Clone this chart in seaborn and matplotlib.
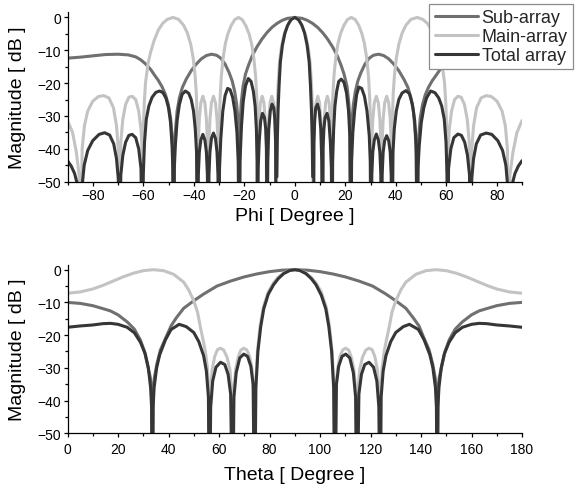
import numpy as np
import pandas as pd
import matplotlib
matplotlib.use('Agg')
import matplotlib.pyplot as plt
import seaborn as sns
from matplotlib.lines import Line2D
from matplotlib.ticker import MultipleLocator

nan = np.nan

# ---------------- corte Phi ----------------
phi_sub = [-90, -85, -80, -75, -70, -66, -63, -61, -59, -57, -55.5, -54, -52.5, -51.2, -50.1, -49.2, -48.6, -48.3, -48.0,
           -47.7, -47.3, -46.6, -45.7, -44.5, -43, -41, -39, -37, -35, -33, -31, -29.3, -27.6, -26, -24.8, -23.8, -23.0, -22.5, -22.2, -22.0,
           -21.7, -21.2, -20.5, -19.5, -18.3, -16.8, -15, -13, -11, -9, -7, -5, -3, 0,
           3, 5, 7, 9, 11, 13, 15, 16.8, 18.3, 19.5, 20.7, 21.4, 21.9, 22.2,
           22.4, 22.7, 23.2, 24.0, 25.0, 26.2, 27.8, 29.5, 31.2, 33.2, 35.2, 37.2, 39.2, 41.2, 43.2, 44.8, 46.0, 47.0, 47.7, 48.1, 48.5,
           48.8, 49.1, 49.7, 50.6, 51.7, 53.0, 54.5, 56, 57.5, 59.5, 61.5, 63.5, 66.5, 70.5, 75, 80, 85, 90]
db_sub_phi = [-12.4, -12.1, -11.7, -11.3, -11.2, -11.4, -12.0, -12.9, -14.2, -15.9, -17.6, -19.2, -21.2, -23.5, -26.5, -30.5, -36, -42, -80,
              -42, -35, -28.5, -24.5, -21.3, -18.8, -16.2, -14.2, -12.6, -11.6, -11.2, -11.5, -12.4, -14.2, -16.8, -19.3, -22.5, -26.5, -31, -37, -80,
              -33, -26, -21, -17.2, -14.5, -11.6, -9, -6.6, -4.6, -3, -1.8, -0.9, -0.3, 0,
              -0.3, -0.9, -1.8, -3, -4.6, -6.6, -9, -11.6, -14.5, -17.2, -21, -26, -33, -80,
              -37, -31, -26.5, -22.5, -19.3, -16.8, -14.2, -12.4, -11.5, -11.2, -11.6, -12.6, -14.2, -16.2, -18.8, -21.3, -24.5, -28.5, -35, -42, -80,
              -42, -36, -30.5, -26.5, -23.5, -21.2, -19.2, -17.6, -15.9, -14.2, -12.9, -12.0, -11.4, -11.2, -11.3, -11.7, -12.1, -12.4]

phi_main = [-90, -88, -86.5, -85.4, -84.8,
            -84.2, -83.3, -82, -80, -77.8, -75.7, -73.6, -71.8, -70.6, -69.9, -69.4,
            -68.9, -68.1, -67, -65.7, -64.4, -63, -61.8, -60.9, -60.5, -60.3,
            -60.0, -59.6, -59.1, -58.1, -57.1, -55.6, -54, -52.3, -50.5, -48.2, -46, -44, -42.5, -41.2, -40.2, -39.5, -39.0, -38.7, -38.5,
            -38.2, -37.8, -37.2, -36.4, -35.6, -35.0, -34.6, -34.3,
            -34.0, -33.6, -33.0, -32.2, -31.4, -30.8, -30.4, -30.1,
            -29.9, -29.6, -29.1, -28.4, -27.5, -26.5, -25.2, -23.8, -22.3, -20.8, -19.4, -18.1, -17.1, -16.2, -15.5, -15.0, -14.8,
            -14.5, -14.1, -13.6, -12.9, -12.2, -11.7, -11.3, -11.0,
            -10.7, -10.3, -9.8, -9.1, -8.4, -7.9, -7.5, -7.3,
            -7.1, -6.9, -6.6, -6.1, -5.4, -4.5, -3.5, -2.3, -1.1, 0,
            1.1, 2.3, 3.5, 4.5, 5.4, 6.1, 6.6, 6.9, 7.1, 7.3,
            7.5, 7.9, 8.4, 9.1, 9.8, 10.3, 10.7, 11.0,
            11.3, 11.7, 12.2, 12.9, 13.6, 14.1, 14.5, 14.8,
            15.0, 15.5, 16.2, 17.1, 18.1, 19.4, 20.8, 22.4, 24.0, 25.4, 26.6, 27.6, 28.5, 29.2, 29.7, 30.0, 30.2,
            30.5, 30.9, 31.5, 32.3, 33.1, 33.7, 34.1, 34.3,
            34.6, 35.0, 35.6, 36.4, 37.2, 37.8, 38.2, 38.5,
            38.7, 39.0, 39.5, 40.2, 41.2, 42.5, 44, 46, 48.5, 50.7, 52.5, 54.2, 55.8, 57.3, 58.3, 59.3, 59.8, 60.2, 60.5,
            60.8, 61.2, 62.1, 63.3, 64.6, 65.9, 67.2, 68.3, 69.1, 69.6,
            70.1, 70.8, 72, 73.8, 75.8, 77.9, 80.1, 82.1, 83.4, 84.2, 84.6,
            85.2, 86.4, 88, 90]
db_main_phi = [-31.4, -35, -41, -48, -80,
               -40, -33, -28.5, -25.5, -24.1, -23.8, -24.5, -27.5, -33, -40, -80,
               -38, -31, -26.5, -24.3, -24, -25, -28.5, -34, -40, -80,
               -35, -26, -19.8, -14, -10.6, -6.8, -3.8, -1.8, -0.6, 0, -0.6, -2.4, -4.8, -8.2, -12.5, -17.5, -23, -30, -80,
               -38, -31, -26, -24, -26, -31, -38, -80,
               -38, -31, -26, -24, -26, -31, -38, -80,
               -33, -25, -18, -12.5, -8, -5, -2.5, -0.7, 0, -0.7, -2.5, -5, -8, -12.5, -18, -25, -80,
               -38, -31, -26, -24, -26, -31, -38, -80,
               -38, -31, -26, -24, -26, -31, -38, -80,
               -32, -26, -20, -14, -9.5, -6, -3.6, -1.5, -0.35, 0,
               -0.35, -1.5, -3.6, -6, -9.5, -14, -20, -26, -32, -80,
               -38, -31, -26, -24, -26, -31, -38, -80,
               -38, -31, -26, -24, -26, -31, -38, -80,
               -25, -18, -12.5, -8, -5, -2.5, -0.7, 0, -0.7, -2.5, -5, -8, -12.5, -18, -25, -33, -80,
               -38, -31, -26, -24, -26, -31, -38, -80,
               -38, -31, -26, -24, -26, -31, -38, -80,
               -30, -23, -17.5, -12.5, -8.2, -4.8, -2.4, -0.6, 0, -0.6, -1.8, -3.8, -6.8, -10.6, -14, -19.8, -26, -35, -80,
               -40, -34, -28.5, -25, -24, -24.3, -26.5, -31, -38, -80,
               -40, -33, -27.5, -24.5, -23.8, -24.1, -25.5, -28.5, -33, -40, -80,
               -48, -41, -35, -31.4]

phi_total = [-90, -88.5, -87.2, -86.2, -85.4, -84.8,
             -84.3, -83.4, -82, -80, -77.5, -75.3, -73.3, -71.7, -70.6, -69.9, -69.4,
             -68.9, -68.1, -67, -65.7, -64.4, -63, -61.8, -60.9, -60.3,
             -60.0, -59.5, -58.8, -57.8, -56.5, -55, -53.5, -52.2, -51, -50, -49.2, -48.6, -48.3, -48.0,
             -47.7, -47.3, -46.6, -45.7, -44.6, -43.3, -42, -41, -40.1, -39.4, -38.9, -38.5,
             -38.2, -37.8, -37.2, -36.4, -35.6, -35.0, -34.6, -34.3,
             -34.0, -33.6, -33.0, -32.2, -31.4, -30.8, -30.4, -30.1,
             -29.8, -29.3, -28.5, -27.6, -26.6, -25.6, -24.6, -23.7, -22.9, -22.4, -22.0,
             -21.7, -21.1, -20.4, -19.5, -18.4, -17.3, -16.4, -15.7, -15.2, -14.9, -14.8,
             -14.5, -14.1, -13.5, -12.8, -12.0, -11.5, -11.2, -11.0,
             -10.7, -10.3, -9.7, -9.0, -8.3, -7.9, -7.6, -7.4, nan,
             -7.1, -6.9, -6.6, -6.2, -5.7, -4.9, -3.9, -2.8, -1.5, 0, 1.5, 2.8, 3.9, 4.9, 5.7, 6.2, 6.6, 6.9, 7.1, nan,
             7.4, 7.6, 7.9, 8.3, 9.0, 9.7, 10.3, 10.7, 11.0,
             11.2, 11.5, 12.0, 12.8, 13.5, 14.1, 14.5, 14.8,
             15.0, 15.4, 15.9, 16.6, 17.4, 18.4, 19.5, 20.5, 21.3, 21.8, 22.2,
             22.5, 23.0, 23.7, 24.5, 25.4, 26.5, 27.6, 28.6, 29.5, 29.9, 30.2,
             30.5, 30.9, 31.5, 32.3, 33.1, 33.7, 34.1, 34.3,
             34.6, 35.0, 35.6, 36.4, 37.2, 37.8, 38.2, 38.5,
             38.9, 39.4, 40.2, 41.2, 42.5, 44, 45.4, 46.6, 47.5, 48.1, 48.5,
             48.8, 49.3, 50.1, 51.1, 52.2, 53.8, 55.5, 57, 58.2, 59.2, 59.9, 60.3, 60.5,
             60.9, 61.8, 63.0, 64.6, 66, 67.3, 68.4, 69.2, 69.6,
             70.1, 70.8, 71.9, 73.6, 75.8, 78, 80.4, 82.3, 83.6, 84.4, 84.8,
             85.4, 86.2, 87.2, 88.5, 90]
db_total_phi = [-43.6, -45.3, -47.5, -50.5, -56, -80,
                -52, -45, -40.5, -37.5, -35.6, -35.1, -35.8, -38.5, -43, -49, -80,
                -48, -42, -38, -35.9, -35.6, -36.6, -40, -46, -80,
                -48, -38, -31, -27, -24.3, -22.8, -22.4, -22.9, -24.6, -27.5, -32, -39, -46, -80,
                -46, -39, -31.5, -26.5, -23.4, -22.4, -23.1, -25, -28.5, -34, -41, -80,
                -48, -41, -37.3, -35.6, -37.3, -41, -48, -80,
                -48, -41, -36.8, -35.2, -36.8, -41, -48, -80,
                -46, -37, -28.5, -23.8, -21.6, -22, -24.3, -28.5, -35, -44, -80,
                -44, -33, -25.5, -20.8, -18.6, -19.5, -22.5, -27, -34, -44, -80,
                -46, -38, -31.5, -29.2, -30.5, -34, -40, -80,
                -44, -34, -28.5, -26.4, -27.5, -31, -38, -80, nan,
                -48.5, -37, -28, -20.5, -13.5, -8.5, -4.8, -2.4, -0.7, 0, -0.7, -2.4, -4.8, -8.5, -13.5, -20.5, -28, -37, -48.5, nan,
                -80, -38, -31, -27.5, -26.4, -28.5, -34, -44, -80,
                -40, -34, -30.5, -29.2, -31.5, -38, -46, -80,
                -44, -34, -27, -22.5, -19.5, -18.8, -19.8, -23, -28.5, -36, -80,
                -44, -35, -28.5, -23.5, -21.2, -21.6, -24, -28.5, -36, -44, -80,
                -48, -41, -37.3, -35.5, -37.3, -41, -48, -80,
                -48, -41, -37.5, -36, -37.5, -41, -48, -80,
                -41, -34, -28.5, -25, -23, -22.3, -23.2, -26.5, -31.5, -39, -80,
                -46, -39, -32, -27.5, -24.5, -22.4, -22.9, -24.5, -27, -31, -38, -48, -80,
                -46, -40, -36.6, -35.5, -35.9, -38, -42, -48, -80,
                -49, -43, -38.5, -35.8, -35.2, -35.6, -37.5, -40.5, -45, -52, -80,
                -56, -50.5, -47.5, -45.3, -43.6]

# ---------------- corte Theta ----------------
theta_sub = [0, 5, 10, 14, 17, 20, 23.7, 26.5, 28.8, 30.5, 31.8, 32.8, 33.3, 33.6,
             33.9, 34.4, 35.4, 36.8, 38.8, 41, 43, 46, 50, 54, 59.2, 64.5, 70, 75, 80, 85, 90,
             95, 100, 105, 110, 115.5, 120.8, 126, 130, 134, 137, 139.2, 141.2, 143.2, 144.6, 145.6, 146.1, 146.4,
             146.7, 147.2, 148.2, 149.5, 151.2, 153.5, 156.3, 160, 163, 166, 170, 175, 180]
db_sub_theta = [-10, -10.3, -11, -11.9, -12.6, -13.8, -16, -18.2, -21.4, -25, -29.5, -33, -37, -80,
                -37, -33, -28.8, -24.5, -21, -17.2, -14.8, -11.8, -9.5, -7.4, -5.0, -3.5, -2.2, -1.3, -0.6, -0.15, 0,
                -0.15, -0.6, -1.3, -2.2, -3.5, -5.0, -7.4, -9.5, -11.8, -14.8, -17.2, -21, -24.5, -28.8, -33, -37, -80,
                -37, -33, -29.5, -25, -21.4, -18.2, -16, -13.8, -12.6, -11.9, -11, -10.3, -10]

theta_main = [0, 5, 10, 14, 18, 22, 26, 30, 34, 38, 42, 46, 48, 50, 51.5, 52.6, 53.7, 54.6, 55.4, 55.9, 56.2,
              56.6, 57.3, 58.3, 59.4, 60.6, 61.9, 63.2, 64.3, 65.0, 65.4,
              65.8, 66.6, 67.6, 68.6, 69.8, 71.0, 72.1, 73.1, 73.7, 74.1,
              74.5, 75.2, 76.3, 77.6, 79.5, 81.6, 83.5, 85.6, 88, 90, 92, 94.4, 96.5, 98.4, 100.5, 102.4, 103.7, 104.8, 105.5, 105.9,
              106.3, 106.9, 107.9, 109.0, 110.2, 111.4, 112.4, 113.4, 114.2, 114.6,
              115.0, 115.7, 116.8, 118.1, 119.4, 120.6, 121.7, 122.7, 123.4, 123.8,
              124.1, 124.6, 125.4, 126.3, 127.4, 128.5, 130, 132, 134, 138, 142, 146, 150, 154, 158, 162, 166, 170, 175, 180]
db_main_theta = [-7.2, -6.8, -5.9, -4.8, -3.5, -2.2, -1.1, -0.3, 0, -0.3, -1.4, -3.8, -6.2, -9.5, -13, -17.5, -21.5, -25, -30, -37, -80,
                 -37, -30.5, -26.5, -24.4, -24, -24.6, -26.8, -30.5, -37, -80,
                 -37, -30.5, -26.8, -24.6, -24, -24.5, -26.5, -30.5, -37, -80,
                 -36, -25, -17, -11.3, -6.8, -4.0, -2.3, -1.0, -0.2, 0, -0.2, -1.0, -2.3, -4.0, -6.8, -11.3, -17, -25, -36, -80,
                 -37, -30.5, -26.5, -24.5, -24, -24.6, -26.8, -30.5, -37, -80,
                 -37, -30.5, -26.8, -24.6, -24, -24.4, -26.5, -30.5, -37, -80,
                 -37, -30, -25, -21.5, -17.5, -13, -9.5, -6.2, -3.8, -1.4, -0.3, 0, -0.3, -1.1, -2.2, -3.5, -4.8, -5.9, -6.8, -7.2]

theta_total = [0, 5, 10, 14, 17, 20, 23.6, 26.5, 28.9, 30.8, 32.0, 32.9, 33.3, 33.6,
               33.9, 34.3, 35.3, 36.5, 38.8, 41, 44.2, 47, 50, 52, 53.9, 55.0, 55.8, 56.2,
               56.7, 57.5, 58.8, 60.6, 62.3, 63.6, 64.6, 65.4,
               65.9, 66.8, 68.2, 69.8, 71.3, 72.6, 73.5, 74.1,
               74.6, 75.4, 76.5, 77.7, 79.5, 81.6, 83.5, 85.6, 88, 90, 92, 94.4, 96.5, 98.4, 100.5, 102.3, 103.5, 104.6, 105.4, 105.9,
               106.5, 107.4, 108.7, 110.2, 111.8, 113.2, 114.1, 114.6,
               115.4, 116.4, 117.7, 119.4, 121.2, 122.5, 123.3, 123.8,
               124.2, 125.0, 126.1, 128, 130, 133, 135.4, 139, 141.2, 143.5, 144.7, 145.7, 146.1, 146.4,
               146.7, 147.1, 148.0, 149.2, 151.1, 153.5, 156.4, 160, 163, 166, 170, 175, 180]
db_total_theta = [-17.6, -17.2, -16.9, -16.5, -16.4, -16.7, -17.6, -19.3, -22.2, -25.8, -30, -36, -42, -80,
                  -42, -36, -30, -26, -21.4, -18.3, -16.7, -17.4, -19.2, -22, -26.3, -31, -39, -80,
                  -42, -34, -29.8, -28.3, -29, -32, -38, -80,
                  -39, -31.5, -27, -25.8, -26.5, -29.5, -35, -80,
                  -36, -25, -17.5, -12, -7.5, -4.6, -2.7, -1.2, -0.25, 0, -0.25, -1.2, -2.7, -4.6, -7.8, -12, -17.5, -25, -36, -80,
                  -35, -29.5, -26.5, -25.8, -27, -31.5, -39, -80,
                  -38, -32, -29, -28.3, -29.8, -34, -42, -80,
                  -39, -31, -26.3, -22, -19.2, -17.4, -16.7, -18.3, -21.4, -26, -30, -36, -42, -80,
                  -42, -36, -30, -25.8, -22.2, -19.3, -17.6, -16.7, -16.4, -16.5, -16.9, -17.2, -17.6]

nomes = ['Sub-array', 'Main-array', 'Total array']
cores = ['#707070', '#c3c3c3', '#363636']
lw = 2.2

sns.set_style('ticks')
plt.rcParams['font.family'] = ['Liberation Sans', 'DejaVu Sans']


def desenha(ax, x, y, cor):
    df = pd.DataFrame({'x': x, 'y': y})
    df['trecho'] = df['y'].isna().cumsum()
    df = df.dropna()
    sns.lineplot(data=df, x='x', y='y', units='trecho', estimator=None, sort=False,
                 color=cor, linewidth=lw, ax=ax, legend=False)


fig = plt.figure(figsize=(5.81, 4.89), dpi=100)
ax1 = fig.add_axes([0.1162, 0.6264, 0.7823, 0.346])
ax2 = fig.add_axes([0.1162, 0.1119, 0.7823, 0.3446])

desenha(ax1, phi_sub, db_sub_phi, cores[0])
desenha(ax1, phi_main, db_main_phi, cores[1])
desenha(ax1, phi_total, db_total_phi, cores[2])

desenha(ax2, theta_sub, db_sub_theta, cores[0])
desenha(ax2, theta_main, db_main_theta, cores[1])
desenha(ax2, theta_total, db_total_theta, cores[2])

ax1.set_xlim(-90, 90)
ax2.set_xlim(0, 180)
for ax in (ax1, ax2):
    ax.set_ylim(-50, 1.5)
    ax.yaxis.set_major_locator(MultipleLocator(10))
    ax.yaxis.set_minor_locator(MultipleLocator(5))
    ax.xaxis.set_major_locator(MultipleLocator(20))
    ax.xaxis.set_minor_locator(MultipleLocator(10))
    ax.tick_params(which='major', length=3, width=0.9, labelsize=10, direction='out', colors='black')
    ax.tick_params(which='minor', length=2, width=0.9, direction='out', colors='black')
    ax.tick_params(axis='y', pad=1.5)
    for s in ('left', 'bottom'):
        ax.spines[s].set_color('black')
        ax.spines[s].set_linewidth(0.9)
    sns.despine(ax=ax)
    ax.set_ylabel('Magnitude [ dB ]', fontsize=14, labelpad=8, color='black')

ax1.tick_params(axis='x', pad=1.5)
ax2.tick_params(axis='x', pad=3.5)
ax1.set_xlabel('Phi [ Degree ]', fontsize=14, labelpad=4, color='black')
ax2.set_xlabel('Theta [ Degree ]', fontsize=14, labelpad=7, color='black')

alcas = [Line2D([], [], color=c, linewidth=lw) for c in cores]
leg = ax1.legend(alcas, nomes, loc='upper right', bbox_to_anchor=(1.112, 1.05),
                 borderaxespad=0, fontsize=13, frameon=True, fancybox=False,
                 edgecolor='#8c8c8c', framealpha=1, borderpad=0.3, labelspacing=0.1,
                 handlelength=2.4, handletextpad=0.2)
leg.get_frame().set_linewidth(0.9)

fig.savefig('out.png', dpi=100)
